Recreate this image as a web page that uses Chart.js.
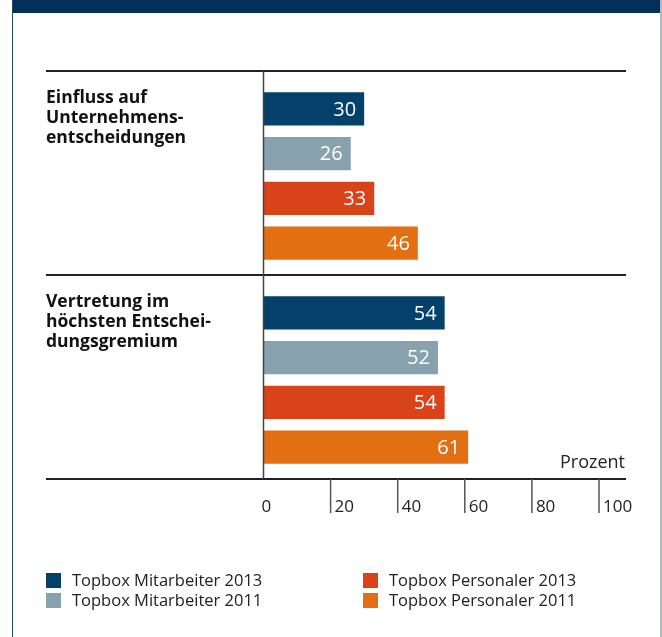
<!DOCTYPE html>
<html>
<head>
<meta charset="utf-8">
<script src="https://cdn.jsdelivr.net/npm/chart.js@4.4.0/dist/chart.umd.min.js"></script>
<style>
  html, body { margin: 0; padding: 0; background: #fff; }
  #frame { position: absolute; left: 12px; top: 0; width: 647px; height: 637px;
           border-left: 1px solid #23466a; border-right: 2px solid #b3b8c4; }
  #band { position: absolute; left: 0; top: 0; right: 0; height: 13px; background: #03305a; }
  canvas { position: absolute; left: 0; top: 0; }
</style>
</head>
<body>
<div id="frame"><div id="band"></div></div>
<canvas id="chart" width="662" height="637"></canvas>
<script>
const categories = ['Einfluss auf Unternehmensentscheidungen', 'Vertretung im höchsten Entscheidungsgremium']
const categoryLines = [
  ['Einfluss auf', 'Unternehmens-', 'entscheidungen'],
  ['Vertretung im', 'höchsten Entschei-', 'dungsgremium'],
]
const seriesNames = ['Topbox Mitarbeiter 2013', 'Topbox Mitarbeiter 2011', 'Topbox Personaler 2013', 'Topbox Personaler 2011']
const mitarbeiter2013 = [30, 54]
const mitarbeiter2011 = [26, 52]
const personaler2013 = [33, 54]
const personaler2011 = [46, 61]
const xTicks = [0, 20, 40, 60, 80, 100]
const unitLabel = 'Prozent'

const colors = ['#03406a', '#87a1ae', '#d9431a', '#e26f11']
const values = [mitarbeiter2013, mitarbeiter2011, personaler2013, personaler2011]

const lineLeft = 46
const lineRight = 626
const shift = 3 // bars sit a bit low inside their band in the original
const font = '"Open Sans", sans-serif'

const decor = {
  id: 'decor',
  afterDraw(chart) {
    const { ctx, chartArea: area } = chart
    const x = chart.scales.x
    const y = chart.scales.y
    const top = area.top - shift
    const bottom = area.bottom - shift
    ctx.save()

    // horizontal rules: top, between groups, bottom
    const seps = []
    for (let i = 1; i < categories.length; i++) {
      seps.push((y.getPixelForValue(i - 1) + y.getPixelForValue(i)) / 2 - shift)
    }
    ctx.strokeStyle = '#222'
    ctx.lineWidth = 2
    ;[top, bottom, ...seps].forEach((ry) => {
      ctx.beginPath()
      ctx.moveTo(lineLeft, Math.round(ry))
      ctx.lineTo(lineRight, Math.round(ry))
      ctx.stroke()
    })

    // vertical zero line
    const x0 = x.getPixelForValue(0)
    ctx.strokeStyle = '#444'
    ctx.lineWidth = 1.5
    ctx.beginPath()
    ctx.moveTo(x0, top)
    ctx.lineTo(x0, bottom)
    ctx.stroke()

    // ticks + labels
    ctx.fillStyle = '#222'
    ctx.font = '17px ' + font
    ctx.textBaseline = 'middle'
    ctx.textAlign = 'left'
    xTicks.forEach((v) => {
      const tx = x.getPixelForValue(v)
      if (v > 0) {
        ctx.strokeStyle = '#555'
        ctx.lineWidth = 1.5
        ctx.beginPath()
        ctx.moveTo(tx, bottom)
        ctx.lineTo(tx, bottom + 34)
        ctx.stroke()
        ctx.fillText(String(v), tx + 4, bottom + 28)
      } else {
        ctx.fillText(String(v), tx - 2, bottom + 28)
      }
    })

    // unit label
    ctx.font = '18px ' + font
    ctx.textAlign = 'right'
    ctx.textBaseline = 'alphabetic'
    ctx.fillText(unitLabel, 625, bottom - 11)

    // value labels inside bars
    ctx.font = '20px ' + font
    ctx.fillStyle = '#fff'
    ctx.textBaseline = 'middle'
    chart.data.datasets.forEach((ds, di) => {
      chart.getDatasetMeta(di).data.forEach((bar, i) => {
        ctx.fillText(String(ds.data[i]), bar.x - 8, bar.y + 1)
      })
    })

    // category labels
    ctx.font = 'bold 17.5px ' + font
    ctx.fillStyle = '#111'
    ctx.textAlign = 'left'
    ctx.textBaseline = 'alphabetic'
    const bandTops = [top, ...seps]
    categoryLines.forEach((lines, i) => {
      lines.forEach((t, li) => ctx.fillText(t, lineLeft, bandTops[i] + 32 + li * 20))
    })

    // legend
    const legendPos = [[46, 573], [46, 593], [363, 573], [363, 593]]
    ctx.font = '16.5px ' + font
    ctx.textBaseline = 'middle'
    chart.data.datasets.forEach((ds, di) => {
      const [lx, ly] = legendPos[di]
      ctx.fillStyle = ds.backgroundColor
      ctx.fillRect(lx, ly, 15, 15)
      ctx.fillStyle = '#222'
      ctx.fillText(ds.label, lx + 26, ly + 8)
    })

    ctx.restore()
  },
}

new Chart(document.getElementById('chart'), {
  type: 'bar',
  data: {
    labels: categories,
    datasets: seriesNames.map((name, i) => ({
      label: name,
      data: values[i],
      backgroundColor: colors[i],
      borderWidth: 0,
      categoryPercentage: 0.877,
      barPercentage: 0.74,
    })),
  },
  options: {
    indexAxis: 'y',
    responsive: false,
    animation: false,
    layout: { padding: { left: 263.5, right: 63, top: 71 + shift, bottom: 158 - shift } },
    scales: {
      x: { display: false, min: 0, max: 100 },
      y: { display: false },
    },
    plugins: { legend: { display: false }, tooltip: { enabled: false } },
  },
  plugins: [decor],
})
</script>
</body>
</html>
